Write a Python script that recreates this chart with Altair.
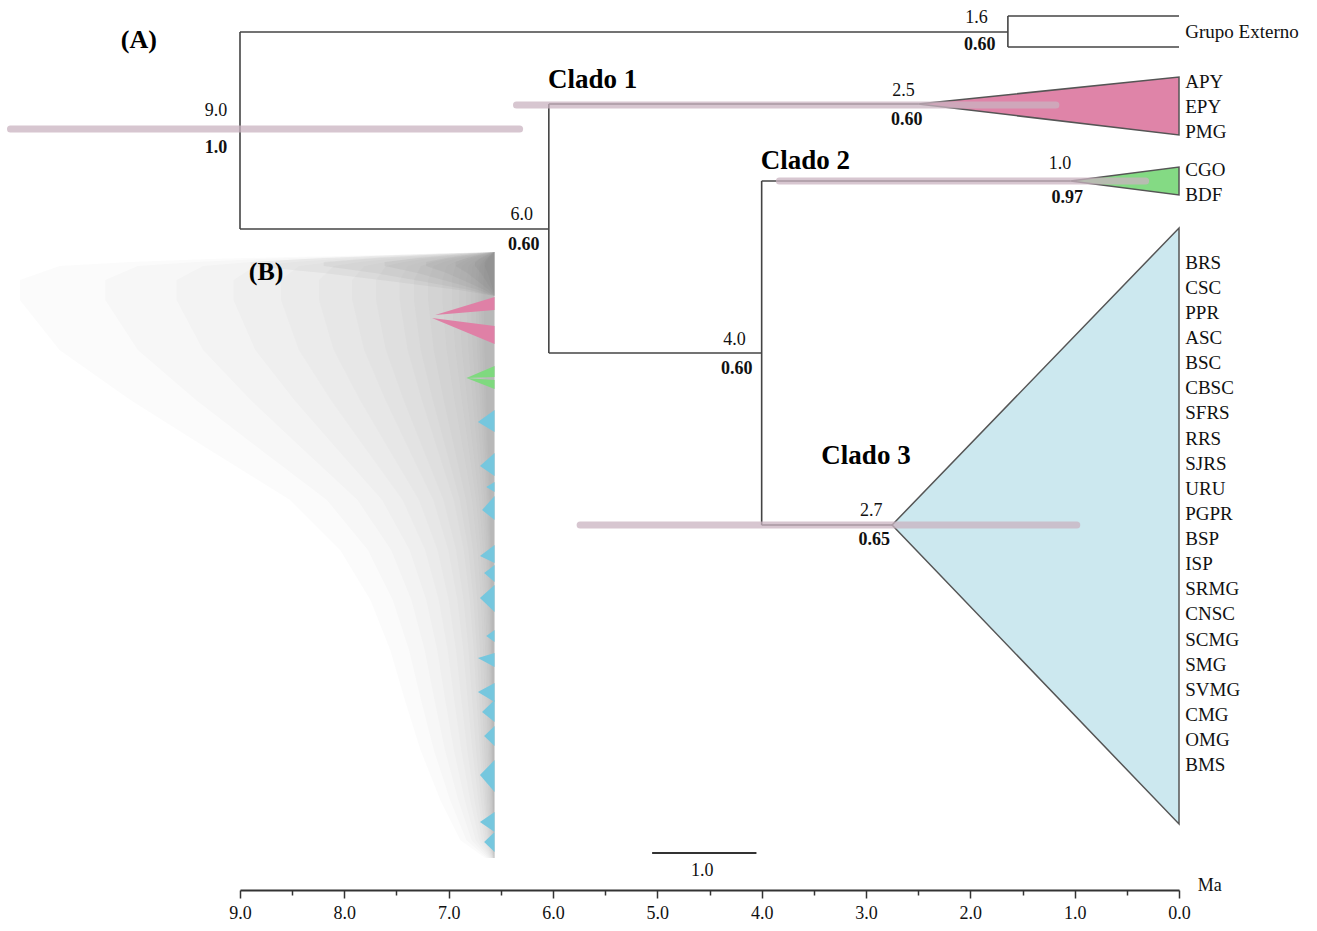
import altair as alt
import pandas as pd

# ---------------- data (x in Ma, y in tree-row units) ----------------
node_id = ["root", "ext", "c1", "n6", "c2", "n4", "c3"]
node_age = [9.0, 1.64, 2.50, 6.04, 1.04, 4.00, 2.75]
age_text = ["9.0", "1.6", "2.5", "6.0", "1.0", "4.0", "2.7"]
age_lab_x = [9.23, 1.94, 2.64, 6.30, 1.14, 4.26, 2.95]
age_lab_y = [111, 18, 91, 215, 164, 340, 511]
sup_text = ["1.0", "0.60", "0.60", "0.60", "0.97", "0.60", "0.65"]
sup_lab_x = [9.23, 1.91, 2.61, 6.28, 1.07, 4.24, 2.92]
sup_lab_y = [148, 45, 120, 245, 198, 369, 540]

# branches: x, x2, y, y2
seg_x = [9.0, 9.0, 1.64, 1.64, 1.64, 9.0, 6.04, 6.04, 6.04, 4.00, 4.00, 4.00]
seg_x2 = [9.0, 1.64, 1.64, 0.0, 0.0, 6.04, 6.04, 2.50, 4.00, 4.00, 1.04, 2.75]
seg_y = [32, 32, 16, 16, 47, 229, 104, 104, 353, 181, 181, 525]
seg_y2 = [229, 32, 47, 16, 47, 229, 353, 104, 353, 525, 181, 525]

# 95% HPD bars
hpd_from = [11.20, 6.35, 3.83, 5.74]
hpd_to = [6.32, 1.18, 0.32, 0.98]
hpd_y = [129, 105, 181, 525]

# collapsed clades
clade_name = ["Clado 1", "Clado 2", "Clado 3"]
clade_apex = [2.50, 1.04, 2.75]
clade_row = [104, 181, 525]
clade_top = [77, 167, 228]
clade_bot = [135, 195, 824]
clade_fill = ["#df84a8", "#84da84", "#cce8ef"]
clade_lab_x = [5.62, 3.58, 3.00]
clade_lab_y = [80, 161, 456]

# tip labels
tips_ext = ["Grupo Externo"]
tips_ext_y = [32]
tips_c1 = ["APY", "EPY", "PMG"]
tips_c1_y = [82, 107, 132]
tips_c2 = ["CGO", "BDF"]
tips_c2_y = [170, 195]
tips_c3 = ["BRS", "CSC", "PPR", "ASC", "BSC", "CBSC", "SFRS", "RRS", "SJRS", "URU",
           "PGPR", "BSP", "ISP", "SRMG", "CNSC", "SCMG", "SMG", "SVMG", "CMG", "OMG", "BMS"]
tips_c3_y = [263, 288, 313, 338, 363, 388, 413, 439, 464, 489, 514, 539, 564, 589,
             614, 640, 665, 690, 715, 740, 765]

# panel B (DensiTree cloud): outline as (age, top row, bottom row), tips at a common age
cloud_tip = 6.56
cloud_x = [6.56, 6.65, 6.89, 7.08, 7.27, 7.42, 7.56, 7.75, 8.04, 8.52, 9.29, 10.05, 10.73, 11.11]
cloud_top = [252, 252, 253, 253, 254, 254, 255, 255, 256, 257, 259, 262, 266, 280]
cloud_bot = [858, 858, 840, 800, 750, 700, 650, 600, 550, 500, 450, 400, 350, 300]
cloud_levels = [1.0, 0.82, 0.67, 0.55, 0.45, 0.37, 0.30, 0.25, 0.20, 0.17, 0.14, 0.11,
                0.09, 0.075, 0.06, 0.05, 0.04, 0.034, 0.028, 0.023]
band_x = [6.56, 6.9, 7.5, 8.2, 8.9]
band_top = [252, 253, 255, 258, 262]
band_bot = [296, 290, 282, 273, 266]
band_levels = [1.0, 0.7, 0.45, 0.28, 0.16, 0.08, 0.04]

# coloured wedges in B: top row, bottom row, tip age, tip row
pink_w = [(297, 310, 7.13, 315), (326, 344, 7.16, 318)]
green_w = [(366, 377, 6.83, 378), (380, 389, 6.83, 378)]
blue_w = [(410, 432, 6.72, 422), (453, 476, 6.70, 466), (482, 492, 6.64, 487),
          (496, 520, 6.68, 510), (545, 563, 6.70, 556), (565, 582, 6.66, 573),
          (585, 612, 6.70, 598), (630, 642, 6.64, 636), (653, 667, 6.72, 658),
          (683, 702, 6.72, 692), (700, 722, 6.68, 712), (726, 746, 6.66, 736),
          (760, 792, 6.70, 775), (812, 832, 6.70, 822), (832, 852, 6.66, 842)]

# scale bar
sbar_from, sbar_to, sbar_y = 5.05, 4.05, 853
axis_ticks = [i * 0.5 for i in range(19)]

# ---------------- scales ----------------
xs = alt.Scale(domain=[9, 0], range=[240, 1179], zero=False, nice=False)
ys = alt.Scale(domain=[0, 890], range=[0, 890], zero=False, nice=False)
xaxis = alt.Axis(values=axis_ticks,
                 labelExpr="datum.value % 1 === 0 ? format(datum.value, '.1f') : ''",
                 tickSize={"condition": {"test": "datum.value % 1 === 0", "value": 8}, "value": 5},
                 domainColor="#333", domainWidth=2, tickColor="#333", tickWidth=1.5,
                 labelFont="Liberation Serif", labelFontSize=18, labelColor="#111",
                 labelPadding=6, grid=False, title=None, labelFlush=False,
                 labelOverlap=False)


def X(f):
    return alt.X(f, type="quantitative", scale=xs, axis=xaxis)


def Y(f):
    return alt.Y(f, type="quantitative", scale=ys, axis=None)


FONT = "Liberation Serif"


def nested(xv, tv, bv, levels):
    rows = []
    for k, f in enumerate(levels):
        for a, t, b in zip(xv, tv, bv):
            rows.append({"lvl": k, "x": cloud_tip + (a - cloud_tip) * f, "y": t, "y2": b})
    return pd.DataFrame(rows)


def wedge_frame(ws, prefix):
    rows = []
    for i, (t, b, tx, ty) in enumerate(ws):
        rows.append({"id": f"{prefix}{i}", "x": cloud_tip, "y": t, "y2": b})
        rows.append({"id": f"{prefix}{i}", "x": tx, "y": ty, "y2": ty})
    return pd.DataFrame(rows)


tri_rows = []
for n, a, r, t, b in zip(clade_name, clade_apex, clade_row, clade_top, clade_bot):
    tri_rows.append({"id": n, "x": a, "y": r, "y2": r})
    tri_rows.append({"id": n, "x": 0.0, "y": t, "y2": b})
tri_df = pd.DataFrame(tri_rows)

seg_df = pd.DataFrame({"x": seg_x, "x2": seg_x2, "y": seg_y, "y2": seg_y2})
hpd_df = pd.DataFrame({"x": hpd_from, "x2": hpd_to, "y": hpd_y})
age_df = pd.DataFrame({"x": age_lab_x, "y": age_lab_y, "t": age_text})
sup_df = pd.DataFrame({"x": sup_lab_x, "y": sup_lab_y, "t": sup_text})
clab_df = pd.DataFrame({"x": clade_lab_x, "y": clade_lab_y, "t": clade_name})
tips_df = pd.DataFrame({"x": [-0.06] * (1 + 3 + 2 + 21),
                        "y": tips_ext_y + tips_c1_y + tips_c2_y + tips_c3_y,
                        "t": tips_ext + tips_c1 + tips_c2 + tips_c3})
panel_df = pd.DataFrame({"x": [9.97, 8.75], "y": [40, 272], "t": ["(A)", "(B)"]})
sbar_df = pd.DataFrame({"x": [sbar_from], "x2": [sbar_to], "y": [sbar_y]})
misc_df = pd.DataFrame({"x": [4.57, -0.18], "y": [871, 886], "t": ["1.0", "Ma"],
                        "a": ["center", "left"]})

layers = []
layers.append(alt.Chart(nested(cloud_x, cloud_top, cloud_bot, cloud_levels)).mark_area(
    orient="vertical", color="#6a6a6a", opacity=0.023).encode(
    x=X("x"), y=Y("y"), y2="y2", detail="lvl:N"))
layers.append(alt.Chart(nested(band_x, band_top, band_bot, band_levels)).mark_area(
    orient="vertical", color="#5a5a5a", opacity=0.06).encode(
    x=X("x"), y=Y("y"), y2="y2", detail="lvl:N"))
for ws, pre, col in [(pink_w, "p", "#df80a6"), (green_w, "g", "#7fd97f"), (blue_w, "b", "#76c7de")]:
    layers.append(alt.Chart(wedge_frame(ws, pre)).mark_area(orient="vertical", color=col).encode(
        x=X("x"), y=Y("y"), y2="y2", detail="id:N"))

for n, col in zip(clade_name, clade_fill):
    layers.append(alt.Chart(tri_df[tri_df.id == n]).mark_area(
        orient="vertical", color=col, stroke="#555555", strokeWidth=1.5).encode(
        x=X("x"), y=Y("y"), y2="y2"))

layers.append(alt.Chart(seg_df).mark_rule(color="#444444", strokeWidth=1.6).encode(
    x=X("x"), x2="x2", y=Y("y"), y2="y2"))
layers.append(alt.Chart(hpd_df).mark_rule(color="#c9b3c0", strokeWidth=7, strokeCap="round",
                                          opacity=0.75).encode(
    x=X("x"), x2="x2", y=Y("y")))
layers.append(alt.Chart(sbar_df).mark_rule(color="#333333", strokeWidth=2).encode(
    x=X("x"), x2="x2", y=Y("y")))

layers.append(alt.Chart(age_df).mark_text(font=FONT, fontSize=18, color="#111111").encode(
    x=X("x"), y=Y("y"), text="t"))
layers.append(alt.Chart(sup_df).mark_text(font=FONT, fontSize=18, fontWeight="bold",
                                          color="#111111").encode(
    x=X("x"), y=Y("y"), text="t"))
layers.append(alt.Chart(clab_df).mark_text(font=FONT, fontSize=27, fontWeight="bold",
                                           color="#000000").encode(
    x=X("x"), y=Y("y"), text="t"))
layers.append(alt.Chart(panel_df).mark_text(font=FONT, fontSize=26, fontWeight="bold",
                                            color="#000000").encode(
    x=X("x"), y=Y("y"), text="t"))
layers.append(alt.Chart(tips_df).mark_text(font=FONT, fontSize=19, align="left",
                                           color="#111111").encode(
    x=X("x"), y=Y("y"), text="t"))
layers.append(alt.Chart(misc_df[misc_df.a == "center"]).mark_text(
    font=FONT, fontSize=18, color="#111111").encode(x=X("x"), y=Y("y"), text="t"))
layers.append(alt.Chart(misc_df[misc_df.a == "left"]).mark_text(
    font=FONT, fontSize=18, align="left", color="#111111").encode(x=X("x"), y=Y("y"), text="t"))

chart = alt.layer(*layers).properties(
    width=1317, height=890,
    padding={"left": 0, "top": 0, "right": 0, "bottom": 41},
    autosize=alt.AutoSizeParams(type="none"),
    background="white",
).configure_view(stroke=None)

chart.save("out.html", embed_options={"renderer": "svg", "actions": False})
